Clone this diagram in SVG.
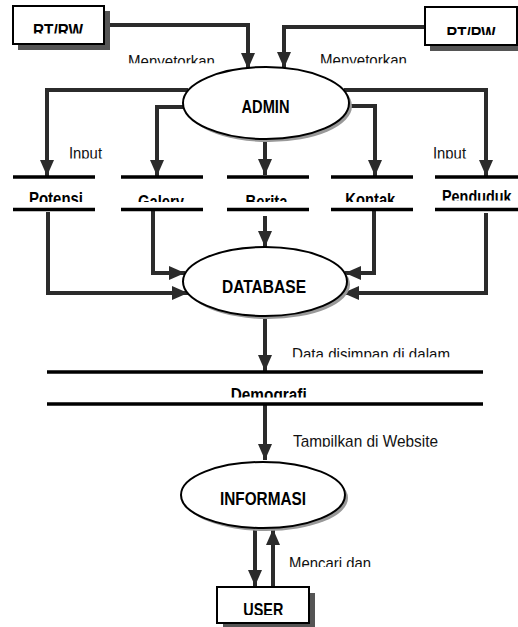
<svg xmlns="http://www.w3.org/2000/svg" width="518" height="627" viewBox="0 0 518 627">
<style>
.bg{fill:#fff}
.box{fill:#fff;stroke:#000;stroke-width:2}
.bshadow{fill:#555}
.ell{fill:#fff;stroke:#000;stroke-width:2}
.eshadow{fill:#999}
.store{stroke:#000;stroke-width:3.6;fill:none}
.conn{stroke:#2b2b2b;stroke-width:4;fill:none;marker-end:url(#arr)}
.lbl{font-family:"Liberation Sans",Arial,sans-serif;font-size:17px;fill:#111}
.name{font-family:"Liberation Sans",Arial,sans-serif;font-size:18px;font-weight:bold;fill:#000}
.mid{text-anchor:middle}
</style>
<defs>
<marker id="arr" markerUnits="userSpaceOnUse" markerWidth="16" markerHeight="20" refX="16" refY="7" orient="auto" viewBox="0 0 16 14">
<path d="M0,0 L16,7 L0,14 Z" fill="#2b2b2b"/>
</marker>
<clipPath id="c33" clipPathUnits="userSpaceOnUse"><rect x="0" y="0" width="518" height="33.5"/></clipPath>
<clipPath id="c35" clipPathUnits="userSpaceOnUse"><rect x="0" y="0" width="518" height="35"/></clipPath>
<clipPath id="c63" clipPathUnits="userSpaceOnUse"><rect x="0" y="0" width="518" height="63.3"/></clipPath>
<clipPath id="c158" clipPathUnits="userSpaceOnUse"><rect x="0" y="0" width="518" height="158.5"/></clipPath>
<clipPath id="c202" clipPathUnits="userSpaceOnUse"><rect x="0" y="0" width="518" height="202"/></clipPath>
<clipPath id="c200" clipPathUnits="userSpaceOnUse"><rect x="0" y="0" width="518" height="200.5"/></clipPath>
<clipPath id="c357" clipPathUnits="userSpaceOnUse"><rect x="0" y="0" width="518" height="357.3"/></clipPath>
<clipPath id="c397" clipPathUnits="userSpaceOnUse"><rect x="0" y="0" width="518" height="397.5"/></clipPath>
<clipPath id="c446" clipPathUnits="userSpaceOnUse"><rect x="0" y="0" width="518" height="446.7"/></clipPath>
<clipPath id="c567" clipPathUnits="userSpaceOnUse"><rect x="0" y="0" width="518" height="567"/></clipPath>
<clipPath id="c615" clipPathUnits="userSpaceOnUse"><rect x="0" y="0" width="518" height="615"/></clipPath>
</defs>
<rect class="bg" x="0" y="0" width="518" height="627"/>

<g id="connectors">
<path class="conn" d="M104,25 H248 V69"/>
<path class="conn" d="M425,27 H284 V68"/>
<path class="conn" d="M188,90 H47 V176"/>
<path class="conn" d="M185,107 H157 V176"/>
<path class="conn" d="M265,139 V175"/>
<path class="conn" d="M348,106 H375 V176"/>
<path class="conn" d="M344,90 H486 V176"/>
<path class="conn" d="M48,212 V293 H188"/>
<path class="conn" d="M153,211 V273 H185"/>
<path class="conn" d="M265,216 V247"/>
<path class="conn" d="M374,211 V273 H345"/>
<path class="conn" d="M486,213 V293 H343"/>
<path class="conn" d="M265,317 V371"/>
<path class="conn" d="M265,405 V460"/>
<path class="conn" d="M255,528 V586"/>
<path class="conn" d="M273,587 V529"/>
<text class="lbl" x="128" y="66.5" textLength="87" lengthAdjust="spacingAndGlyphs" clip-path="url(#c63)">Menyetorkan</text>
<text class="lbl" x="320" y="65.5" textLength="87" lengthAdjust="spacingAndGlyphs" clip-path="url(#c63)">Menyetorkan</text>
<text class="lbl" x="69" y="159" textLength="33" lengthAdjust="spacingAndGlyphs" clip-path="url(#c158)">Input</text>
<text class="lbl" x="433" y="159" textLength="33" lengthAdjust="spacingAndGlyphs" clip-path="url(#c158)">Input</text>
<text class="lbl" x="292" y="360" textLength="158" lengthAdjust="spacingAndGlyphs" clip-path="url(#c357)">Data disimpan di dalam</text>
<text class="lbl" x="293" y="447" textLength="145" lengthAdjust="spacingAndGlyphs" clip-path="url(#c446)">Tampilkan di Website</text>
<text class="lbl" x="289" y="569" textLength="82" lengthAdjust="spacingAndGlyphs" clip-path="url(#c567)">Mencari dan</text>
</g>

<g id="rtrw-left">
<rect class="bshadow" x="18" y="11" width="92" height="39"/>
<rect class="box" x="13" y="6" width="91" height="38"/>
<text class="name mid" x="58" y="37" textLength="50" lengthAdjust="spacingAndGlyphs" clip-path="url(#c33)">RT/RW</text>
</g>

<g id="rtrw-right">
<rect class="bshadow" x="430" y="12" width="92" height="39"/>
<rect class="box" x="425" y="7" width="92" height="38"/>
<text class="name mid" x="471" y="39.5" textLength="49" lengthAdjust="spacingAndGlyphs" clip-path="url(#c35)">RT/RW</text>
</g>

<g id="admin">
<ellipse class="eshadow" cx="269" cy="106" rx="83" ry="36"/>
<ellipse class="ell" cx="266" cy="103" rx="83" ry="36"/>
<text class="name mid" x="265.5" y="113.3" textLength="48" lengthAdjust="spacingAndGlyphs">ADMIN</text>
</g>

<g id="potensi">
<line class="store" x1="13" y1="177" x2="95" y2="177"/>
<line class="store" x1="13" y1="209.5" x2="95" y2="209.5"/>
<text class="name mid" x="56" y="205" textLength="54" lengthAdjust="spacingAndGlyphs" clip-path="url(#c202)">Potensi</text>
</g>

<g id="galery">
<line class="store" x1="121" y1="177" x2="203" y2="177"/>
<line class="store" x1="121" y1="209.5" x2="203" y2="209.5"/>
<text class="name mid" x="161" y="208" textLength="46" lengthAdjust="spacingAndGlyphs" clip-path="url(#c202)">Galery</text>
</g>

<g id="berita">
<line class="store" x1="227" y1="177" x2="309" y2="177"/>
<line class="store" x1="227" y1="209.5" x2="309" y2="209.5"/>
<text class="name mid" x="266.5" y="208" textLength="42" lengthAdjust="spacingAndGlyphs" clip-path="url(#c202)">Berita</text>
</g>

<g id="kontak">
<line class="store" x1="331" y1="177" x2="413" y2="177"/>
<line class="store" x1="331" y1="209.5" x2="413" y2="209.5"/>
<text class="name mid" x="370.3" y="206" textLength="50" lengthAdjust="spacingAndGlyphs" clip-path="url(#c202)">Kontak</text>
</g>

<g id="penduduk">
<line class="store" x1="435" y1="177" x2="518" y2="177"/>
<line class="store" x1="435" y1="209.5" x2="518" y2="209.5"/>
<g clip-path="url(#c200)">
<text class="name" transform="translate(442,203) scale(0.8,1)" x="0" y="0">Penduduk</text>
</g>
</g>

<g id="database">
<ellipse class="eshadow" cx="268" cy="284.5" rx="82" ry="34.5"/>
<ellipse class="ell" cx="265" cy="281.5" rx="82" ry="34.5"/>
<text class="name mid" x="264" y="293.3" textLength="84" lengthAdjust="spacingAndGlyphs">DATABASE</text>
</g>

<g id="demografi">
<line class="store" x1="47" y1="372" x2="483" y2="372"/>
<line class="store" x1="47" y1="404" x2="483" y2="404"/>
<text class="name mid" x="268.7" y="401" textLength="76" lengthAdjust="spacingAndGlyphs" clip-path="url(#c397)">Demografi</text>
</g>

<g id="informasi">
<ellipse class="eshadow" cx="266" cy="498" rx="82" ry="33"/>
<ellipse class="ell" cx="263" cy="495" rx="82" ry="33"/>
<text class="name mid" x="263" y="505" textLength="86" lengthAdjust="spacingAndGlyphs">INFORMASI</text>
</g>

<g id="user">
<rect class="bshadow" x="223" y="593" width="92" height="36"/>
<rect class="box" x="217" y="587" width="92" height="36"/>
<text class="name mid" x="263.3" y="616" textLength="40" lengthAdjust="spacingAndGlyphs" clip-path="url(#c615)">USER</text>
</g>
</svg>
